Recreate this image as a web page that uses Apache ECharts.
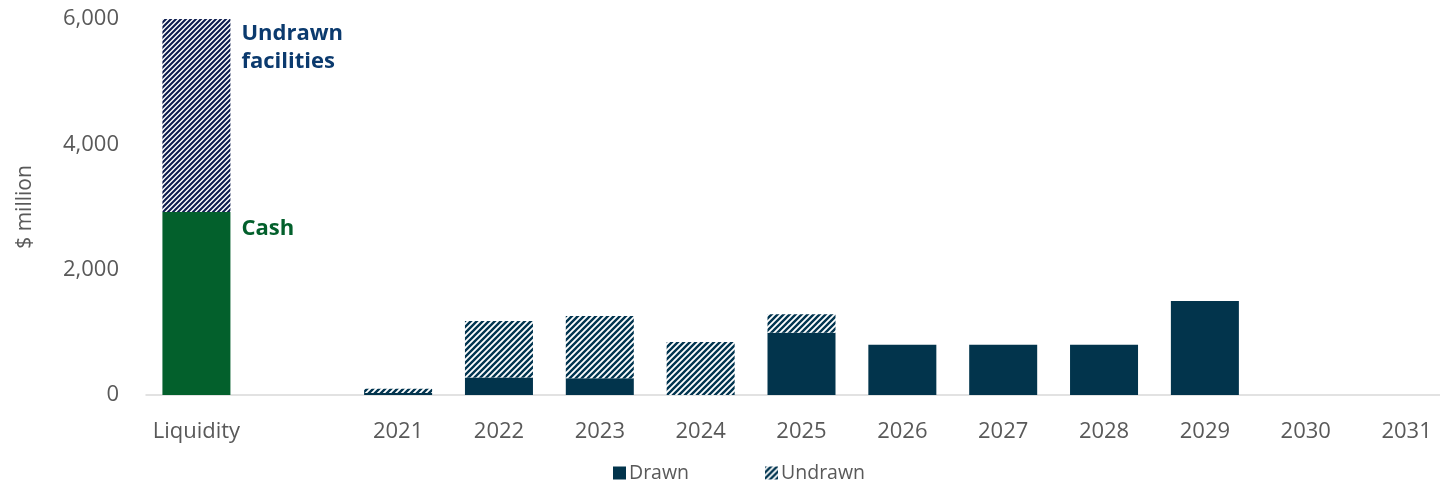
<!DOCTYPE html>
<html>
<head>
<meta charset="utf-8">
<script src="https://cdn.jsdelivr.net/npm/echarts@6/dist/echarts.min.js"></script>
<style>html,body{margin:0;padding:0;background:#fff;}#c{width:1440px;height:489px;}</style>
</head>
<body>
<div id="c"></div>
<script>
const categories = ['Liquidity', '', '2021', '2022', '2023', '2024', '2025', '2026', '2027', '2028', '2029', '2030', '2031'];
const cashValues = [2920, '-', '-', '-', '-', '-', '-', '-', '-', '-', '-', '-', '-'];
const drawnValues = ['-', '-', 30, 281, 266, 0, 995, 800, 800, 800, 1500, 0, 0];
const undrawnValues = [3080, '-', 70, 900, 995, 845, 295, 0, 0, 0, 0, 0, 0];
const yTicks = [0, 2000, 4000, 6000];

function stripe(color, s, w) {
  const c = document.createElement('canvas');
  c.width = s; c.height = s;
  const ctx = c.getContext('2d');
  ctx.fillStyle = '#fff';
  ctx.fillRect(0, 0, s, s);
  ctx.strokeStyle = color;
  ctx.lineWidth = w;
  ctx.beginPath();
  ctx.moveTo(-1, s + 1); ctx.lineTo(s + 1, -1);
  ctx.moveTo(-1, 1); ctx.lineTo(1, -1);
  ctx.moveTo(s - 1, s + 1); ctx.lineTo(s + 1, s - 1);
  ctx.stroke();
  return { image: c, repeat: 'repeat' };
}
const hatchYears = stripe('#023550', 6, 2.4);
const hatchLiq = stripe('#0D1C4E', 5, 2.1);

const undrawnData = undrawnValues.map((v, i) => {
  if (i === 0) {
    return {
      value: v,
      itemStyle: { color: hatchLiq },
      label: {
        show: true, formatter: 'Undrawn\nfacilities', position: [79, 1],
        align: 'left', verticalAlign: 'top',
        color: '#0B3A6E', fontWeight: 'bold', fontSize: 22, lineHeight: 28,
        fontFamily: 'Open Sans'
      }
    };
  }
  return v;
});
const cashData = cashValues.map((v, i) => {
  if (i === 0) {
    return {
      value: v,
      label: {
        show: true, formatter: 'Cash', position: [79, 6],
        align: 'left', verticalAlign: 'top',
        color: '#03602C', fontWeight: 'bold', fontSize: 22,
        fontFamily: 'Open Sans'
      }
    };
  }
  return v;
});

const chart = echarts.init(document.getElementById('c'), null, { renderer: 'canvas' });
chart.setOption({
  animation: false,
  backgroundColor: '#fff',
  textStyle: { fontFamily: 'Open Sans' },
  grid: { left: 146, right: -17, top: 19, bottom: 94, containLabel: false, outerBoundsMode: 'none' },
  legend: {
    data: ['Drawn', 'Undrawn'],
    bottom: 1, left: 608,
    itemWidth: 13, itemHeight: 13, itemGap: 76,
    textStyle: { color: '#595959', fontSize: 19.5, fontFamily: 'Open Sans', padding: [0, 0, 0, -2] },
    icon: 'rect'
  },
  xAxis: {
    type: 'category', data: categories,
    axisLine: { lineStyle: { color: '#D9D9D9', width: 1.5 } },
    axisTick: { show: false },
    axisLabel: { color: '#595959', fontSize: 22, margin: 26, interval: 0 }
  },
  yAxis: {
    type: 'value', min: 0, max: 6000, interval: 2000,
    name: '$ million', nameLocation: 'middle', nameGap: 110, nameRotate: 90,
    nameTextStyle: { color: '#595959', fontSize: 21 },
    axisLine: { show: false }, axisTick: { show: false }, splitLine: { show: false },
    axisLabel: {
      color: '#595959', fontSize: 22, margin: 27,
      formatter: v => yTicks.includes(v) ? v.toLocaleString('en-US') : ''
    }
  },
  series: [
    { name: 'Cash', type: 'bar', stack: 'a', barWidth: 68, data: cashData, itemStyle: { color: '#03602C' } },
    { name: 'Drawn', type: 'bar', stack: 'a', barWidth: 68, data: drawnValues, itemStyle: { color: '#02344C' } },
    { name: 'Undrawn', type: 'bar', stack: 'a', barWidth: 68, data: undrawnData, itemStyle: { color: hatchYears } }
  ]
});
</script>
</body>
</html>
